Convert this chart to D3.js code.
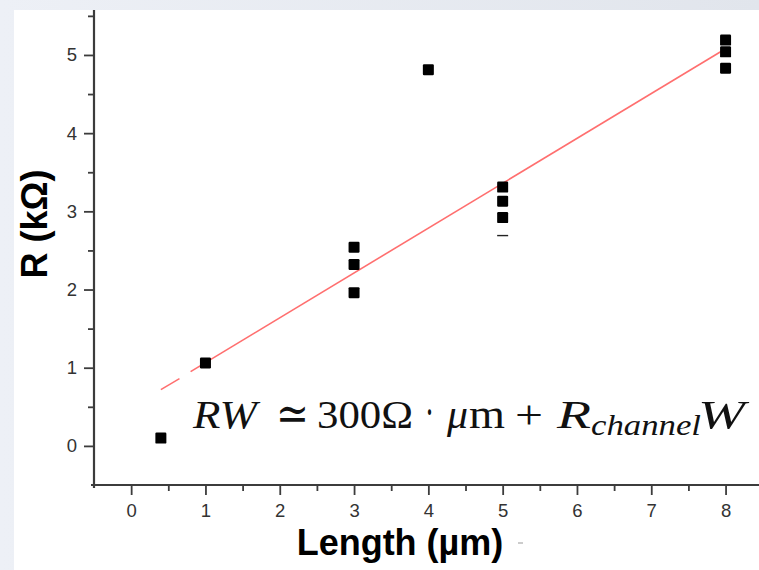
<!DOCTYPE html>
<html>
<head>
<meta charset="utf-8">
<script src="https://cdn.jsdelivr.net/npm/d3@7"></script>
<style>
  html, body { margin: 0; padding: 0; background: #e4e8ef; }
  svg { display: block; }
</style>
</head>
<body>
<svg id="chart" width="759" height="570"></svg>
<script>
// ---- data ----
const lengths    = [0.4, 1, 3, 3, 3, 4, 5, 5, 5, 8, 8, 8];
const resistance = [0.10, 1.06, 2.54, 2.32, 1.96, 4.81, 3.31, 3.13, 2.92, 5.19, 5.04, 4.83];
const partialMarkX = [5];
const partialMarkY = [2.69];
// linear fit drawn in two pieces (small gap near x≈0.7)
const fitSegX = [[0.4, 0.65], [0.80, 8.0]];
const fitSegY = [[0.72, 0.86], [0.95, 5.08]];
const xTicks = [0, 1, 2, 3, 4, 5, 6, 7, 8];
const xMinorTicks = [0.5, 1.5, 2.5, 3.5, 4.5, 5.5, 6.5, 7.5];
const yTicks = [0, 1, 2, 3, 4, 5];
const yMinorTicks = [0.5, 1.5, 2.5, 3.5, 4.5, 5.5];
const xTitle = "Length (µm)";
const yTitle = "R (kΩ)";

const svg = d3.select("#chart");
const W = 759, H = 570;

// background
const defs = svg.append("defs");
const g1 = defs.append("linearGradient").attr("id", "bg").attr("x1", 0).attr("y1", 0).attr("x2", 1).attr("y2", 0);
g1.append("stop").attr("offset", 0).attr("stop-color", "#edf0f6");
g1.append("stop").attr("offset", 1).attr("stop-color", "#e1e5ec");
svg.append("rect").attr("width", W).attr("height", H).attr("fill", "url(#bg)");
svg.append("rect").attr("x", 14).attr("y", 10).attr("width", W - 14).attr("height", H - 10).attr("fill", "#ffffff");

const x = d3.scaleLinear().domain([-0.5, 8.45]).range([94, 759]);
const y = d3.scaleLinear().domain([-0.5, 5.575]).range([485, 10]);

const axisColor = "#3c3c3c";
const labelColor = "#333";

// X axis
const xAxisG = svg.append("g").attr("transform", `translate(0,${y(-0.5)})`);
xAxisG.call(d3.axisBottom(x).tickValues(xTicks).tickSize(10).tickPadding(9).tickFormat(d3.format("d")));
xAxisG.append("g").call(d3.axisBottom(x).tickValues(xMinorTicks).tickSize(6).tickFormat(""))
  .select(".domain").remove();
// Y axis
const yAxisG = svg.append("g").attr("transform", `translate(${x(-0.5)},0)`);
yAxisG.call(d3.axisLeft(y).tickValues(yTicks).tickSize(10).tickPadding(7).tickFormat(d3.format("d")));
yAxisG.append("g").call(d3.axisLeft(y).tickValues(yMinorTicks).tickSize(6).tickFormat(""))
  .select(".domain").remove();

svg.selectAll(".domain").attr("stroke", axisColor).attr("stroke-width", 2.2);
svg.selectAll(".tick line").attr("stroke", axisColor).attr("stroke-width", 1.8);
svg.selectAll(".tick text").attr("fill", labelColor)
  .style("font-family", "'Liberation Sans', Arial, sans-serif").style("font-size", "18.5px");
// extend axes slightly past the corner
xAxisG.select(".domain").attr("d", `M${x(-0.5) - 3},0H${W}`);
yAxisG.select(".domain").attr("d", `M0,${y(-0.5) + 3}V${y(5.575)}`);

// fit line
const line = d3.line().x(d => x(d[0])).y(d => y(d[1]));
fitSegX.forEach((sx, i) => {
  svg.append("path")
    .datum(sx.map((v, j) => [v, fitSegY[i][j]]))
    .attr("d", line)
    .attr("fill", "none")
    .attr("stroke", "#ff6f6f")
    .attr("stroke-width", 1.6);
});

// markers
const ms = 11;
svg.append("g").selectAll("rect")
  .data(lengths.map((v, i) => [v, resistance[i]]))
  .join("rect")
  .attr("x", d => x(d[0]) - ms / 2)
  .attr("y", d => y(d[1]) - ms / 2)
  .attr("width", ms).attr("height", ms)
  .attr("rx", 1.2)
  .attr("fill", "#000");

svg.append("g").selectAll("line")
  .data(partialMarkX.map((v, i) => [v, partialMarkY[i]]))
  .join("line")
  .attr("x1", d => x(d[0]) - ms / 2).attr("x2", d => x(d[0]) + ms / 2)
  .attr("y1", d => y(d[1])).attr("y2", d => y(d[1]))
  .attr("stroke", "#222").attr("stroke-width", 1.4);

// axis titles
svg.append("text")
  .attr("x", 400).attr("y", 555)
  .attr("text-anchor", "middle")
  .style("font-family", "'Liberation Sans', Arial, sans-serif")
  .style("font-weight", "bold").style("font-size", "36px")
  .attr("fill", "#000")
  .text(xTitle);
svg.append("line").attr("x1", 518).attr("x2", 523).attr("y1", 543).attr("y2", 543)
  .attr("stroke", "#999").attr("stroke-width", 1);

svg.append("text")
  .attr("transform", "translate(47,224) rotate(-90)")
  .attr("text-anchor", "middle")
  .style("font-family", "'Liberation Sans', Arial, sans-serif")
  .style("font-weight", "bold").style("font-size", "36px")
  .attr("fill", "#000")
  .text(yTitle);

// formula
const fpieces = [
  {t: "RW", x: 193, w: 64, it: true, base: 428, fs: 41},
  {t: "≃", x: 276, w: 33, it: false, base: 430, fs: 48},
  {t: "300Ω", x: 317, w: 96, it: false, base: 428, fs: 41},
  {t: "·", x: 425, w: 9, it: false, base: 428, fs: 48},
  {t: "μ", x: 447, w: 21, it: true, base: 428, fs: 41},
  {t: "m", x: 469, w: 36, it: false, base: 428, fs: 41},
  {t: "+", x: 515, w: 28, it: false, base: 428, fs: 41},
  {t: "R", x: 557, w: 34, it: true, base: 428, fs: 41},
  {t: "channel", x: 591, w: 110, it: true, base: 435, fs: 29},
  {t: "W", x: 698, w: 47, it: true, base: 428, fs: 41}
];
const fg = svg.append("g");
fpieces.forEach(p => {
  fg.append("text")
    .attr("x", p.x).attr("y", p.base)
    .attr("textLength", p.w).attr("lengthAdjust", "spacingAndGlyphs")
    .style("font-family", "'Liberation Serif', 'DejaVu Serif', serif")
    .style("font-style", p.it ? "italic" : "normal")
    .style("font-size", p.fs + "px")
    .attr("fill", "#111")
    .text(p.t);
});
</script>
</body>
</html>
